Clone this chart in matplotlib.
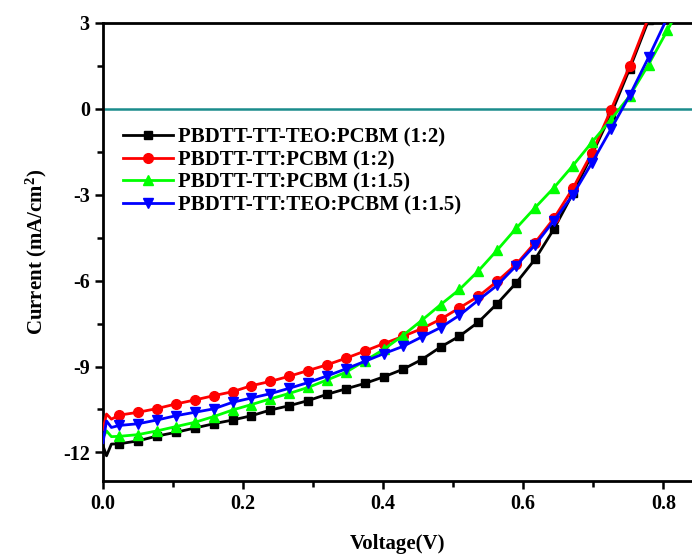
import numpy as np
import matplotlib
matplotlib.use("Agg")
import matplotlib.pyplot as plt
from matplotlib.ticker import MultipleLocator

plt.rcParams['font.family'] = ['Liberation Serif', 'DejaVu Serif']
plt.rcParams['font.weight'] = 'bold'
plt.rcParams['mathtext.fontset'] = 'custom'
plt.rcParams['mathtext.rm'] = 'Liberation Serif:bold'
plt.rcParams['mathtext.default'] = 'rm'

# ---- data ----
v_start = [0.0, 0.005, 0.012]
voltage = [0.023, 0.050, 0.077, 0.104, 0.131, 0.158, 0.185, 0.212, 0.239, 0.266,
           0.293, 0.320, 0.347, 0.374, 0.401, 0.428, 0.455, 0.482, 0.509, 0.536,
           0.563, 0.590, 0.617, 0.644, 0.671, 0.698, 0.725, 0.752, 0.779, 0.806,
           0.833]

labels = ["PBDTT-TT-TEO:PCBM (1:2)", "PBDTT-TT:PCBM (1:2)",
          "PBDTT-TT:PCBM (1:1.5)", "PBDTT-TT:TEO:PCBM (1:1.5)"]

black_start = [-11.77, -12.12, -11.71]
black = [-11.70, -11.60, -11.43, -11.30, -11.15, -11.00, -10.87, -10.72, -10.52, -10.37,
         -10.19, -9.97, -9.78, -9.59, -9.36, -9.10, -8.76, -8.32, -7.94, -7.45,
         -6.80, -6.08, -5.25, -4.19, -2.95, -1.60, -0.20, 1.40, 3.10, 4.80]

red_start = [-11.20, -10.66, -10.84]
red = [-10.70, -10.60, -10.47, -10.31, -10.17, -10.02, -9.88, -9.67, -9.52, -9.34,
       -9.14, -8.94, -8.71, -8.46, -8.20, -7.95, -7.68, -7.35, -6.95, -6.55,
       -6.02, -5.43, -4.67, -3.82, -2.77, -1.54, -0.05, 1.50, 3.20, 4.90]

green_start = [-11.48, -11.25, -11.45]
green = [-11.44, -11.38, -11.25, -11.10, -10.95, -10.75, -10.52, -10.33, -10.13, -9.94,
         -9.73, -9.47, -9.20, -8.80, -8.40, -7.92, -7.39, -6.84, -6.31, -5.66,
         -4.93, -4.17, -3.45, -2.75, -1.98, -1.17, -0.38, 0.45, 1.55, 2.75, 4.00]

blue_start = [-11.66, -10.90, -11.13]
blue = [-11.06, -11.00, -10.87, -10.72, -10.60, -10.48, -10.25, -10.10, -9.95, -9.76,
        -9.56, -9.33, -9.08, -8.82, -8.55, -8.30, -7.97, -7.64, -7.21, -6.68,
        -6.16, -5.48, -4.75, -3.90, -3.00, -1.89, -0.72, 0.47, 1.80, 3.20]

series = [
    (black_start, black, '#000000', 's', 6),
    (red_start, red, '#ff0000', 'o', 7),
    (green_start, green, '#00ff00', '^', 7),
    (blue_start, blue, '#0000ff', 'v', 7),
]

fig = plt.figure(figsize=(6.92, 5.56), dpi=100)
ax = fig.add_axes([103/692, 75/556, 1 - 103/692, 458/556])

ax.axhline(0, color='#1a8c8c', lw=1.8, zorder=1)

for (st, vals, col, mk, ms), lab in zip(series, labels):
    x = v_start + voltage[:len(vals)]
    y = st + vals
    ax.plot(x, y, color=col, lw=2.0, marker=mk, ms=ms,
            markevery=list(range(3, len(x))), label=lab, zorder=3)

ax.set_xlim(0, 0.841)
ax.set_ylim(-13, 3)
ax.xaxis.set_major_locator(MultipleLocator(0.2))
ax.xaxis.set_minor_locator(MultipleLocator(0.1))
ax.yaxis.set_major_locator(MultipleLocator(3))
ax.yaxis.set_minor_locator(MultipleLocator(1.5))
ax.xaxis.set_major_formatter(matplotlib.ticker.FormatStrFormatter('%.1f'))
ax.yaxis.set_major_formatter(matplotlib.ticker.FormatStrFormatter('%d'))

for s in ['left', 'bottom', 'top']:
    ax.spines[s].set_linewidth(2.0)
ax.spines['right'].set_visible(False)
ax.tick_params(which='major', direction='out', length=6, width=1.8, labelsize=14.5)
ax.tick_params(which='minor', direction='out', length=4, width=1.8)
ax.tick_params(top=False, right=False, which='both')

ax.set_xlabel('Voltage(V)', fontsize=15, fontweight='bold', labelpad=14)
ax.set_ylabel('Current (mA/cm$^2$)', fontsize=15, fontweight='bold', labelpad=10)

leg = ax.legend(loc='upper left', bbox_to_anchor=(0.02, 0.79), frameon=False,
                fontsize=15, handlelength=2.4, handletextpad=0.25,
                labelspacing=0.12, borderaxespad=0)
for t in leg.get_texts():
    t.set_fontweight('bold')

fig.savefig('out.png', dpi=100)
